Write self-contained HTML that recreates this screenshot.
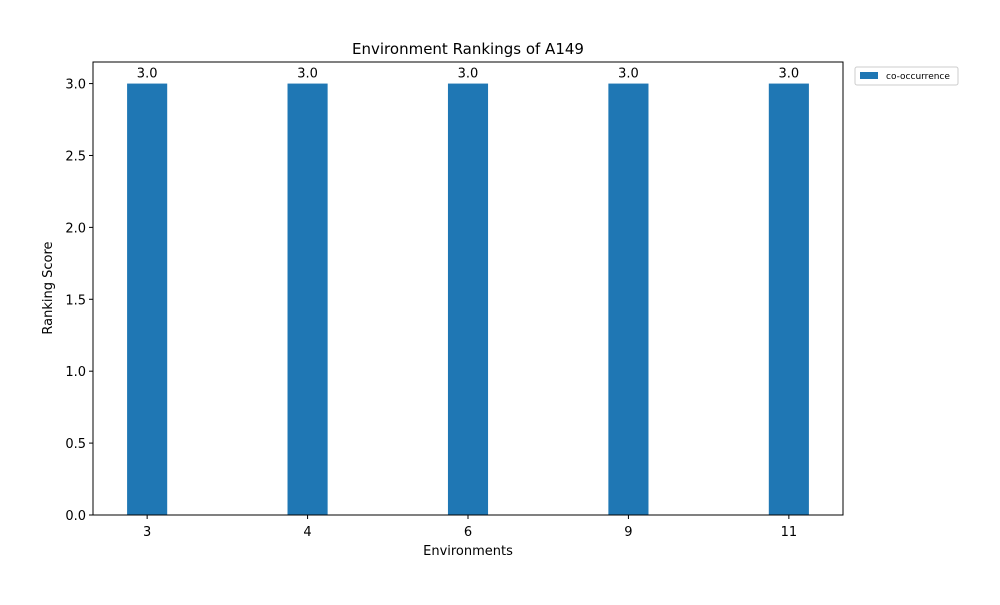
<!DOCTYPE html>
<html><head><meta charset="utf-8"><style>
body{margin:0;background:#fff;font-family:"Liberation Sans","DejaVu Sans",sans-serif;}
svg text{font-family:"DejaVu Sans","Liberation Sans",sans-serif;}
</style></head><body>
<svg id="chart" width="1000" height="600">
<rect width="1000" height="600" fill="#fff"/>
<text x="468" y="54" font-size="15" text-anchor="middle">Environment Rankings of A149</text>
<g id="bars"></g>
<g id="axes"></g>
<rect x="93" y="62" width="750" height="453" fill="none" stroke="#000" stroke-width="1"/>
<text x="468" y="555" font-size="13" text-anchor="middle">Environments</text>
<text x="52" y="288" font-size="13" text-anchor="middle" transform="rotate(-90 52 288)">Ranking Score</text>
<g>
<rect x="855" y="67" width="103" height="18" rx="2" fill="#fff" stroke="#ccc"/>
<rect x="860" y="72" width="18" height="7" fill="#1f77b4"/>
<text x="886" y="79" font-size="9">co-occurrence</text>
</g>
</svg>
<script>
const categories=["3","4","6","9","11"];
const values=[3.0,3.0,3.0,3.0,3.0];
const yTicks=[0,0.5,1.0,1.5,2.0,2.5,3.0];
const NS="http://www.w3.org/2000/svg";
const L=93,R=843,T=62,B=515;
const xmin=-0.3375,xmax=categories.length-1+0.3375,ymax=3.15;
const x=i=>L+(i-xmin)/(xmax-xmin)*(R-L);
const y=v=>B-v/ymax*(B-T);
const bw=0.25*(R-L)/(xmax-xmin);
const bars=document.getElementById('bars'),axes=document.getElementById('axes');
function mk(t,a,p){const e=document.createElementNS(NS,t);for(const k in a)e.setAttribute(k,a[k]);p.appendChild(e);return e;}
values.forEach((v,i)=>{
 const r=mk('rect',{x:x(i)-bw/2,y:y(v),width:bw,height:B-y(v),fill:'#1f77b4'},bars);
 
 
 const t=mk('text',{x:x(i),y:y(v)-6,'font-size':13,'text-anchor':'middle'},bars);
 t.textContent=v.toFixed(1);
 
 
 const tk=mk('line',{x1:x(i),x2:x(i),y1:B,y2:B+4,stroke:'#000'},axes);
 
 
 const tl=mk('text',{x:x(i),y:B+21,'font-size':13,'text-anchor':'middle'},axes);
 tl.textContent=categories[i];
 
 
});
yTicks.forEach(v=>{
 const tk=mk('line',{x1:L-4,x2:L,y1:y(v),y2:y(v),stroke:'#000'},axes);
 
 
 const tl=mk('text',{x:L-7,y:y(v)+5,'font-size':13,'text-anchor':'end'},axes);
 tl.textContent=v.toFixed(1);
 
 
});
</script>
</body></html>
